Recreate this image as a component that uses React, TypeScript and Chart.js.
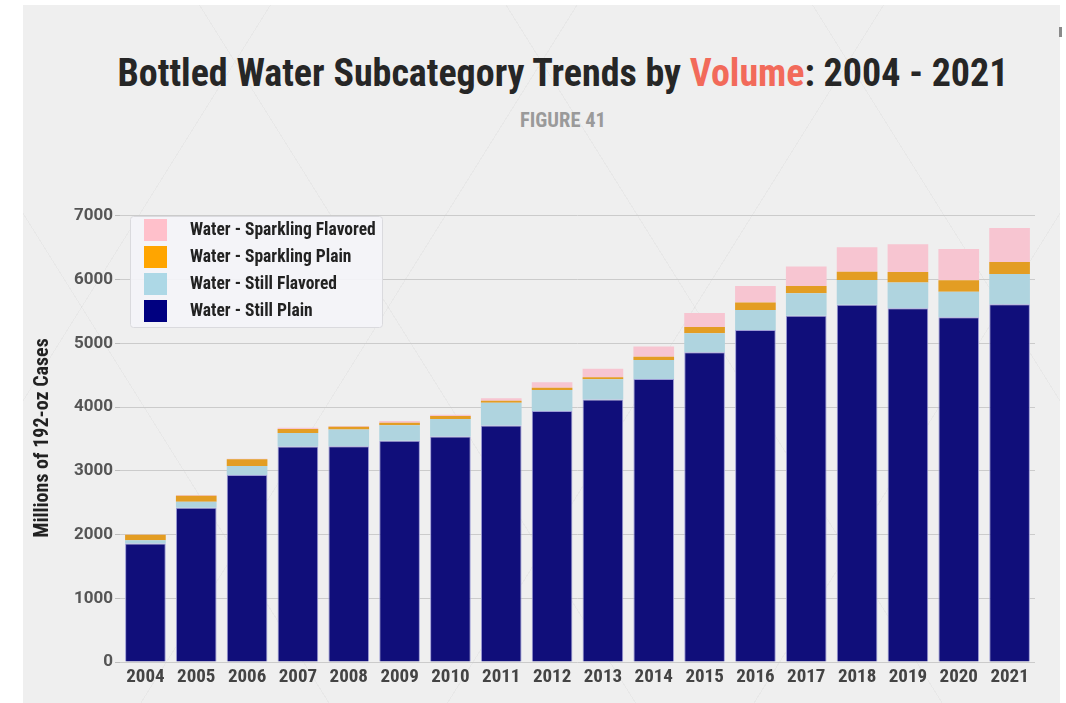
import React, { useEffect, useRef } from "react";
import { Chart, registerables } from "chart.js";

Chart.register(...registerables);

// Annual volumes, millions of 192-oz cases
const years = [
  "2004", "2005", "2006", "2007", "2008", "2009", "2010", "2011", "2012",
  "2013", "2014", "2015", "2016", "2017", "2018", "2019", "2020", "2021",
];
const stillPlain = [
  1860, 2420, 2935, 3380, 3385, 3470, 3540, 3710, 3940,
  4120, 4440, 4860, 5210, 5435, 5605, 5550, 5410, 5615,
];
const stillFlavored = [
  50, 95, 140, 215, 265, 245, 275, 360, 330,
  315, 300, 300, 315, 350, 390, 405, 400, 475,
];
const sparklingPlain = [
  85, 95, 105, 60, 40, 40, 45, 30, 35,
  35, 50, 95, 115, 115, 130, 165, 180, 185,
];
const sparklingFlavored = [
  5, 10, 10, 20, 15, 25, 20, 40, 85,
  130, 160, 220, 260, 305, 385, 435, 490, 535,
];
const yTicks = [0, 1000, 2000, 3000, 4000, 5000, 6000, 7000];

const seriesNames = [
  "Water - Still Plain",
  "Water - Still Flavored",
  "Water - Sparkling Plain",
  "Water - Sparkling Flavored",
];
const barColors = ["#100e7a", "#afd4df", "#e39d23", "#f7c5d1"];
const legendColors = ["#000080", "#add8e6", "#ffa500", "#ffc0cb"];

const FAMILY = "Roboto, 'Open Sans', sans-serif";
// condensed face of the family, passed through the canvas font shorthand
const COND_BOLD = "bold condensed";

// Legend drawn as a box tucked into the top-left of the plot area
const insetLegend = {
  id: "insetLegend",
  afterDatasetsDraw(chart: any) {
    const { ctx, chartArea } = chart;
    const x0 = chartArea.left + 10;
    const y0 = chartArea.top + 2;
    const w = 252;
    const h = 111;
    ctx.save();
    ctx.beginPath();
    ctx.roundRect(x0 + 0.5, y0 + 0.5, w, h, 3);
    ctx.fillStyle = "rgba(244,244,249,0.92)";
    ctx.fill();
    ctx.strokeStyle = "#dadade";
    ctx.lineWidth = 1;
    ctx.stroke();

    const items = chart.data.datasets
      .map((ds: any, i: number) => ({ label: ds.label, color: legendColors[i] }))
      .reverse();
    ctx.font = `${COND_BOLD} 17.5px ${FAMILY}`;
    ctx.textBaseline = "middle";
    ctx.textAlign = "left";
    items.forEach((it: any, k: number) => {
      const top = y0 + 3 + k * 27;
      ctx.fillStyle = it.color;
      ctx.fillRect(x0 + 14, top, 23, 22);
      ctx.fillStyle = "#222222";
      ctx.fillText(it.label, x0 + 60, top + 11.5);
    });
    ctx.restore();
  },
};

export default function App() {
  const canvasRef = useRef<HTMLCanvasElement | null>(null);

  useEffect(() => {
    if (!canvasRef.current) return;
    const seriesValues = [stillPlain, stillFlavored, sparklingPlain, sparklingFlavored];
    const chart = new Chart(canvasRef.current, {
      type: "bar",
      data: {
        labels: years,
        datasets: seriesValues.map((values, i) => ({
          label: seriesNames[i],
          data: values,
          backgroundColor: barColors[i],
          borderColor: i === 0 ? "#9c9cd6" : barColors[i],
          borderWidth: i === 0 ? 1 : 0,
          categoryPercentage: 0.8,
          barPercentage: 1.0,
        })),
      },
      options: {
        animation: false,
        responsive: false,
        devicePixelRatio: 1,
        layout: { padding: { left: 31, right: 31, top: 64, bottom: 11 } },
        scales: {
          x: {
            stacked: true,
            grid: { display: false, drawTicks: false },
            border: { display: false },
            ticks: {
              color: "#444444",
              font: { family: FAMILY, size: 19, weight: COND_BOLD },
              padding: 4,
              maxRotation: 0,
              autoSkip: false,
            },
            afterFit(scale: any) {
              scale.height = 30;
            },
          },
          y: {
            stacked: true,
            min: 0,
            max: 7030,
            afterBuildTicks(scale: any) {
              scale.ticks = yTicks.map((v) => ({ value: v }));
            },
            ticks: {
              color: "#555555",
              font: { family: FAMILY, size: 17, weight: "bold" },
              padding: 2,
              callback: (v: any) => String(v),
            },
            grid: {
              color: "#cbcbcb",
              lineWidth: 1,
              tickLength: 5,
              tickColor: "#bdbdbd",
            },
            border: { display: false },
            title: {
              display: true,
              text: "Millions of 192-oz Cases",
              color: "#222222",
              font: { family: FAMILY, size: 20, weight: COND_BOLD },
              padding: 0,
            },
            afterFit(scale: any) {
              scale.width = 89;
            },
          },
        },
        plugins: {
          legend: { display: false },
          tooltip: { enabled: false },
        },
      },
      plugins: [insetLegend],
    });
    return () => chart.destroy();
  }, []);

  const headingFont = {
    fontFamily: FAMILY,
    fontWeight: "bold" as const,
    fontStretch: "condensed",
  };

  return (
    <div
      style={{
        position: "absolute",
        left: 0,
        top: 0,
        width: 1066,
        height: 703,
        background: "#ffffff",
        overflow: "hidden",
      }}
    >
      <div
        style={{
          position: "absolute",
          left: 23,
          top: 5,
          width: 1037,
          height: 698,
          backgroundColor: "#efefef",
          backgroundImage:
            "repeating-linear-gradient(58deg, transparent 0px, transparent 259px, rgba(0,0,0,0.03) 259px, rgba(0,0,0,0.03) 260px), repeating-linear-gradient(-58deg, transparent 0px, transparent 259px, rgba(0,0,0,0.03) 259px, rgba(0,0,0,0.03) 260px)",
        }}
      />
      <div
        style={{
          position: "absolute",
          left: 1059,
          top: 27,
          width: 3,
          height: 10,
          background: "#8a8a8a",
        }}
      />
      <div
        style={{
          ...headingFont,
          position: "absolute",
          left: 563,
          top: 54,
          transform: "translateX(-50%)",
          whiteSpace: "nowrap",
          fontSize: 38,
          lineHeight: "38px",
          color: "#262626",
        }}
      >
        Bottled Water Subcategory Trends by{" "}
        <span style={{ color: "#f26a5a" }}>Volume</span>: 2004 - 2021
      </div>
      <div
        style={{
          ...headingFont,
          position: "absolute",
          left: 563,
          top: 110,
          transform: "translateX(-50%)",
          whiteSpace: "nowrap",
          fontSize: 20.5,
          lineHeight: "20px",
          color: "#9a9a9a",
        }}
      >
        FIGURE 41
      </div>
      <canvas
        ref={canvasRef}
        width={1066}
        height={553}
        style={{ position: "absolute", left: 0, top: 150, width: 1066, height: 553 }}
      />
    </div>
  );
}
